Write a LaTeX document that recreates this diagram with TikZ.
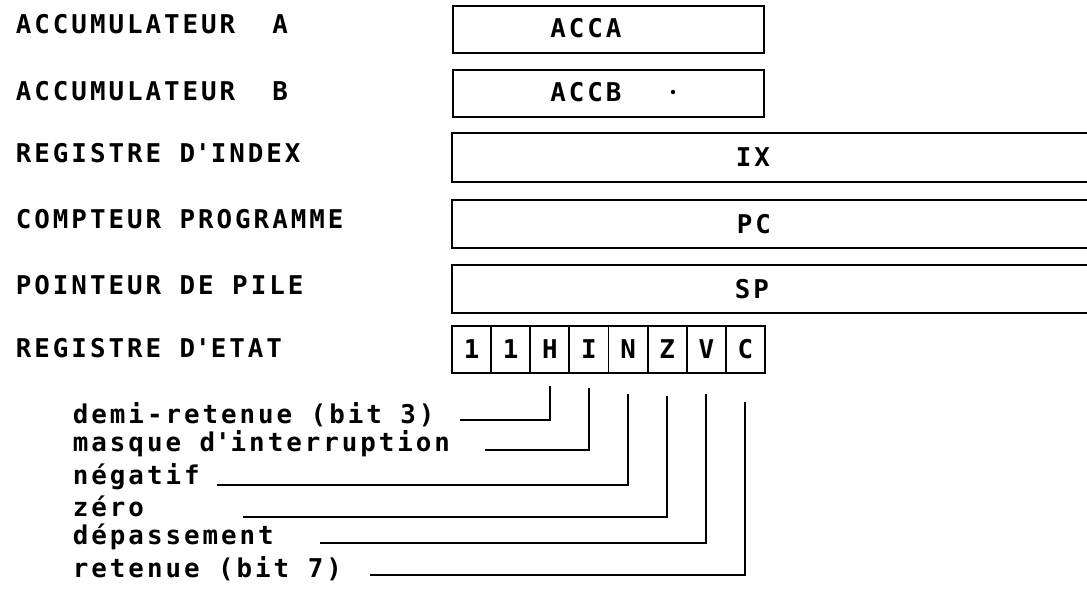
\documentclass[tikz,border=0pt]{standalone}
\usepackage{fontspec}
\newfontfamily\dm[LetterSpace=11.5]{DejaVu Sans Mono}
\usetikzlibrary{calc}
\begin{document}
\begin{tikzpicture}[x=0.02cm,y=-0.02cm,line width=1.1pt,
  txt/.style={inner sep=0pt,font=\dm\bfseries\fontsize{14.7pt}{17pt}\selectfont},
  lbl/.style={txt,anchor=base west},
  regbox/.style={draw,inner sep=0pt,anchor=north west,minimum height=0.94cm,minimum width=6.22cm},
  cell/.style={draw,txt,minimum width=0.7825cm,minimum height=0.94cm},
  link/.style={line width=1.1pt}]
\useasboundingbox (0,0) rectangle (1087,588);

% left labels
\node[lbl] (lA)  at (15,34)  {ACCUMULATEUR\ \ A};
\node[lbl] (lB)  at (15,100) {ACCUMULATEUR\ \ B};
\node[lbl] (lX)  at (15,162) {REGISTRE D\textquotesingle INDEX};
\node[lbl] (lPC) at (15,228) {COMPTEUR PROGRAMME};
\node[lbl] (lSP) at (15,294) {POINTEUR DE PILE};
\node[lbl] (lCC) at (15,357) {REGISTRE D\textquotesingle ETAT};

% 8-bit registers
\node[regbox] (bA) at (452,5) {};
\node[txt] (tA) at (586,28.5) {ACCA};
\node[regbox] (bB) at (452,69) {};
\node[txt] (tB) at (586,92.5) {ACCB};
\fill (673,92) circle (2.2);

% 16-bit registers (open to the right)
\draw (1087,133) -| (452,182) -- (1087,182);
\node[txt] (tX) at (753,157.5) {IX};
\draw (1087,200) -| (452,248) -- (1087,248);
\node[txt] (tPC) at (754,224) {PC};
\draw (1087,265) -| (452,313) -- (1087,313);
\node[txt] (tSP) at (752,289) {SP};

% condition code register
\foreach \n/\t [count=\i from 0] in {f7/1,f6/1,fH/H,fI/I,fN/N,fZ/Z,fV/V,fC/C}
  \node[cell] (\n) at ({452+39.125*(\i+0.5)},349.5) {\t};

% descriptions
\node[lbl] (dH) at (72,423) {demi-retenue (bit 3)};
\node[lbl] (dI) at (72,451) {masque d\textquotesingle interruption};
\node[lbl] (dN) at (72,484) {négatif};
\node[lbl] (dZ) at (72,516) {zéro};
\node[lbl] (dV) at (72,544) {dépassement};
\node[lbl] (dC) at (72,577) {retenue (bit 7)};

\coordinate (eH) at (460,420);
\coordinate (eI) at (485,450);
\coordinate (eN) at (217,485);
\coordinate (eZ) at (243,517);
\coordinate (eV) at (320,543);
\coordinate (eC) at (370,575);

\draw[link] (fH.south) ++(0,12) |- (eH);
\draw[link] (fI.south) ++(0,14) |- (eI);
\draw[link] (fN.south) ++(0,20) |- (eN);
\draw[link] (fZ.south) ++(0,22) |- (eZ);
\draw[link] (fV.south) ++(0,20) |- (eV);
\draw[link] (fC.south) ++(0,28) |- (eC);
\end{tikzpicture}
\end{document}
